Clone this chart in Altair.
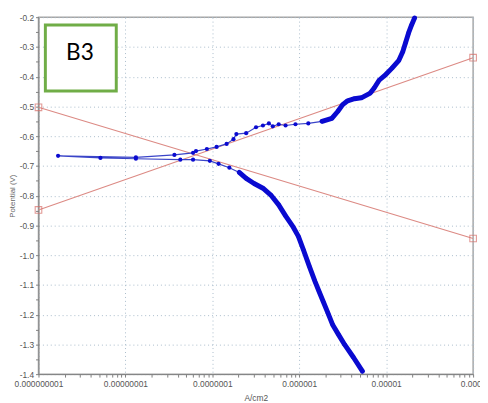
import json
import altair as alt
import pandas as pd

# ---- measured polarisation curve (current density A/cm2, potential V), in scan order
current = [5.32e-6, 4.21e-6, 3.33e-6, 2.84e-6, 2.43e-6, 2.14e-6, 1.88e-6, 1.69e-6,
           1.52e-6, 1.30e-6, 1.11e-6, 9.77e-7, 8.57e-7, 6.96e-7, 5.80e-7, 4.71e-7,
           3.82e-7, 3.02e-7, 2.45e-7, 2.04e-7, 1.57e-7, 1.18e-7, 9.35e-8, 6.00e-8,
           4.28e-8, 1.32e-8, 5.16e-9, 1.68e-9, 1.32e-8, 3.66e-8, 6.00e-8, 6.49e-8,
           8.65e-8, 1.12e-7, 1.46e-7, 1.75e-7, 1.89e-7, 2.45e-7, 3.18e-7, 3.82e-7,
           4.47e-7, 4.96e-7, 5.80e-7, 6.96e-7, 9.04e-7, 1.27e-6, 1.83e-6, 2.37e-6,
           2.77e-6, 3.16e-6, 3.60e-6, 4.32e-6, 5.18e-6, 6.56e-6, 7.28e-6, 8.29e-6,
           9.95e-6, 1.16e-5, 1.40e-5, 1.55e-5, 1.67e-5, 1.81e-5, 1.96e-5, 2.12e-5]
potential = [-1.390, -1.344, -1.301, -1.268, -1.235, -1.195, -1.155, -1.122,
             -1.089, -1.036, -0.980, -0.937, -0.907, -0.868, -0.831, -0.798,
             -0.775, -0.759, -0.742, -0.722, -0.706, -0.693, -0.683, -0.679,
             -0.679, -0.676, -0.673, -0.666, -0.671, -0.663, -0.656, -0.650,
             -0.643, -0.636, -0.626, -0.610, -0.593, -0.590, -0.570, -0.564,
             -0.557, -0.567, -0.560, -0.564, -0.560, -0.557, -0.550, -0.540,
             -0.517, -0.494, -0.481, -0.474, -0.471, -0.455, -0.438, -0.412,
             -0.392, -0.372, -0.345, -0.316, -0.286, -0.253, -0.226, -0.203]

# ---- Tafel fit lines (end points)
tafel_current = [1e-9, 1e-4]
tafel_cathodic = [-0.503, -0.944]
tafel_anodic = [-0.848, -0.336]

# ---- axes
x_tick_values = [1e-9, 1e-8, 1e-7, 1e-6, 1e-5, 1e-4]
x_tick_labels = ["0.000000001", "0.00000001", "0.0000001", "0.000001", "0.00001", "0.0001"]
y_tick_values = [-1.4, -1.3, -1.2, -1.1, -1.0, -0.9, -0.8, -0.7, -0.6, -0.5, -0.4, -0.3, -0.2]
y_minor_values = [-1.35, -1.25, -1.15, -1.05, -0.95, -0.85, -0.75, -0.65, -0.55, -0.45, -0.35, -0.25]
x_minor_values = [m * d for d in [1e-9, 1e-8, 1e-7, 1e-6, 1e-5] for m in range(2, 10)]

# ---- sample label box (data coordinates)
label_text = "B3"
label_box_current = [1.2e-9, 7.85e-9]
label_box_potential = [-0.226, -0.448]
label_text_pos = [3.0e-9, -0.322]

# dense (thick) parts of the trace: index ranges
CATH_THICK_END = 19
ANOD_THICK_START = 46

df = pd.DataFrame({"i": list(range(len(current))), "I": current, "E": potential})
thick_df = df[(df.i <= CATH_THICK_END) | (df.i >= ANOD_THICK_START)].copy()
thick_df["seg"] = ["cath" if i <= CATH_THICK_END else "anod" for i in thick_df.i]

tafel_df = pd.DataFrame({
    "line": ["cathodic", "cathodic", "anodic", "anodic"],
    "I": tafel_current + tafel_current,
    "E": tafel_cathodic + tafel_anodic,
})
box_df = pd.DataFrame({"I": [label_box_current[0]], "I2": [label_box_current[1]],
                       "E": [label_box_potential[0]], "E2": [label_box_potential[1]]})
text_df = pd.DataFrame({"I": [label_text_pos[0]], "E": [label_text_pos[1]], "t": [label_text]})

x_scale = alt.Scale(type="log", domain=[1e-9, 1e-4])
y_scale = alt.Scale(domain=[-1.4, -0.2], nice=False, zero=False)

label_expr = json.dumps(x_tick_labels) + "[round(log(datum.value)/LN10)+9]"
x_axis = alt.Axis(values=x_tick_values, labelExpr=label_expr, title="A/cm2",
                  grid=True, gridColor="#a9bccb", gridDash=[1, 3], gridWidth=1,
                  domainColor="#808080", tickColor="#808080", tickSize=3,
                  labelFont="Liberation Sans", labelFontSize=8.5, labelColor="#555555",
                  labelPadding=3, labelOverlap=False, labelFlush=False,
                  titleFont="Liberation Sans", titleFontSize=8.5, titleFontWeight="normal",
                  titleColor="#555555", titlePadding=5)
y_axis = alt.Axis(values=y_tick_values,
                  labelExpr="replace(format(datum.value, '.1f'), '\u2212', '-')",
                  title="Potential (V)",
                  grid=True, gridColor="#a9bccb", gridDash=[1, 3], gridWidth=1,
                  domainColor="#808080", tickColor="#808080", tickSize=3,
                  labelFont="Liberation Sans", labelFontSize=8.5, labelColor="#555555",
                  labelPadding=2, labelOverlap=False, labelFlush=False,
                  titleFont="Liberation Sans", titleFontSize=8, titleFontWeight="normal",
                  titleColor="#666666", titlePadding=3)

X = alt.X("I:Q", scale=x_scale, axis=x_axis)
Y = alt.Y("E:Q", scale=y_scale, axis=y_axis)

tafel_lines = alt.Chart(tafel_df).mark_line(color="#dc8a84", strokeWidth=1.1).encode(
    x=X, y=Y, detail="line:N")
tafel_ends = alt.Chart(tafel_df).mark_point(shape="square", filled=False, size=45,
                                            color="#d8706a", strokeWidth=1.1).encode(x=X, y=Y)

thin_line = alt.Chart(df).mark_line(color="#3a44c8", strokeWidth=1.2).encode(
    x=X, y=Y, order="i:Q")
thick_line = alt.Chart(thick_df).mark_line(color="#0a0ad0", strokeWidth=5,
                                           strokeCap="round", strokeJoin="round").encode(
    x=X, y=Y, order="i:Q", detail="seg:N")
dots = alt.Chart(df).mark_circle(color="#0a0ad0", size=18, opacity=1).encode(x=X, y=Y)

box = alt.Chart(box_df).mark_rect(fill="white", stroke="#70ad47", strokeWidth=3).encode(
    x=X, x2="I2:Q", y=Y, y2="E2:Q")
txt = alt.Chart(text_df).mark_text(font="Lato", fontSize=23, color="black").encode(
    x=X, y=Y, text="t:N")

main = alt.layer(box, txt, tafel_lines, tafel_ends, thin_line, thick_line, dots)

minor = alt.Chart(tafel_df).mark_point(opacity=0).encode(
    x=alt.X("I:Q", scale=x_scale,
            axis=alt.Axis(values=x_minor_values, labels=False, grid=False, domain=False,
                          tickColor="#808080", tickSize=3, title=None, orient="bottom")),
    y=alt.Y("E:Q", scale=y_scale,
            axis=alt.Axis(values=y_minor_values, labels=False, grid=False, domain=False,
                          tickColor="#808080", tickSize=3, title=None, orient="left")),
)

chart = alt.layer(main, minor).resolve_axis(x="independent", y="independent").properties(
    width=442, height=363,
    autosize=alt.AutoSizeParams(type="none"),
    padding={"left": 31, "top": 6, "right": 7, "bottom": 26},
).configure_view(stroke="#a6a6a6", strokeWidth=1.5)

chart.save("out.html", embed_options={"renderer": "svg", "actions": False})
